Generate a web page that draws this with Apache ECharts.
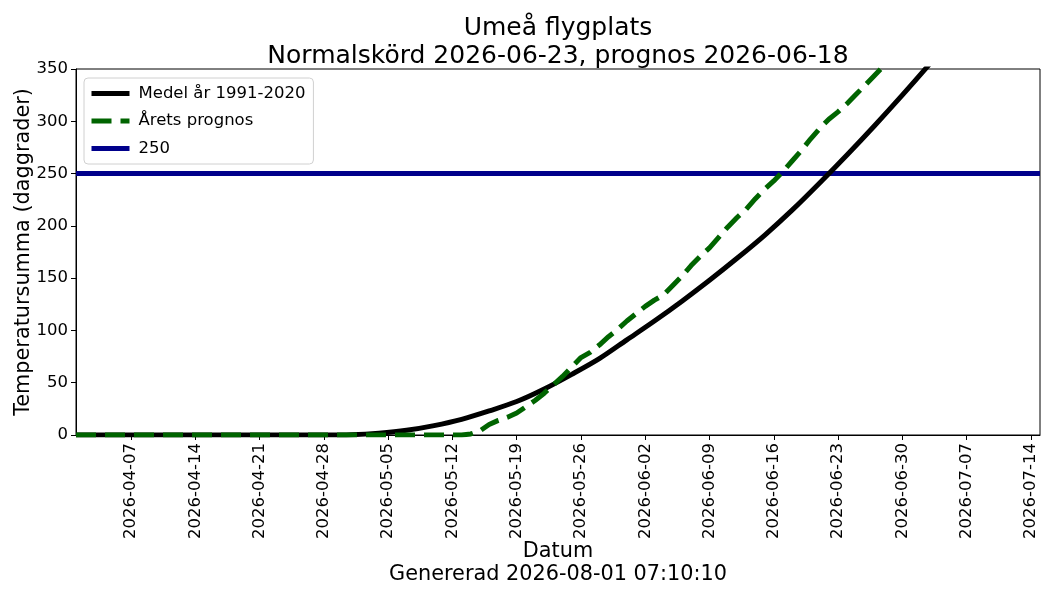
<!DOCTYPE html>
<html>
<head>
<meta charset="utf-8">
<script src="https://cdn.jsdelivr.net/npm/echarts@6/dist/echarts.min.js"></script>
<style>html,body{margin:0;padding:0;background:#fff}#chart{width:1050px;height:600px}</style>
</head>
<body>
<div id="chart"></div>
<script>
// medelvärde 1991-2020
var medelDates = ['2026-04-01','2026-04-25','2026-04-28','2026-05-01','2026-05-04','2026-05-07','2026-05-10','2026-05-13','2026-05-16','2026-05-19','2026-05-22','2026-05-25','2026-05-28','2026-05-31','2026-06-03','2026-06-06','2026-06-09','2026-06-12','2026-06-15','2026-06-18','2026-06-21','2026-06-24','2026-06-27','2026-06-30','2026-07-03','2026-07-06','2026-07-09','2026-07-12','2026-07-15'];
var medelValues = [0,0,0,0.3,1.8,4.5,9,15,23,32,44,58,73,91,109,128,148,169,191,215,241,268,296,325,355,386,417,449,481];

// årets prognos
var prognosDates = ['2026-04-01','2026-05-13','2026-05-14','2026-05-15','2026-05-16','2026-05-17','2026-05-18','2026-05-19','2026-05-20','2026-05-21','2026-05-22','2026-05-23','2026-05-24','2026-05-25','2026-05-26','2026-05-27','2026-05-28','2026-05-29','2026-05-30','2026-05-31','2026-06-01','2026-06-02','2026-06-03','2026-06-04','2026-06-05','2026-06-06','2026-06-07','2026-06-08','2026-06-09','2026-06-10','2026-06-11','2026-06-12','2026-06-13','2026-06-14','2026-06-15','2026-06-16','2026-06-17','2026-06-18','2026-06-19','2026-06-20','2026-06-21','2026-06-22','2026-06-23','2026-06-24','2026-06-25','2026-06-26','2026-06-27','2026-06-28','2026-06-29','2026-06-30'];
var prognosValues = [0,0,1,4,10,14,17,21,27,33,40,48,56,65,74,79,86,94,101,109,116,123,129,134,143,152,162,171,179,189,199,208,216,226,235,243,252,262,272,283,293,302,309,317,326,335,344,353,362,371];

var grans = 250;
var rangeDates = ['2026-04-01','2026-07-15'];
var tickDates = ['2026-04-07','2026-04-14','2026-04-21','2026-04-28','2026-05-05','2026-05-12','2026-05-19','2026-05-26','2026-06-02','2026-06-09','2026-06-16','2026-06-23','2026-06-30','2026-07-07','2026-07-14'];

var DAY = 86400000;
var t0 = Date.parse(rangeDates[0]);
function toDay(s){ return (Date.parse(s) - t0) / DAY; }
function toDate(d){ return new Date(t0 + Math.round(d) * DAY).toISOString().slice(0,10); }
function pairs(dates, vals){
    var out = [];
    for(var i=0;i<dates.length;i++){ out.push([toDay(dates[i]), vals[i]]); }
    return out;
}
var ticks = tickDates.map(toDay);

var font = 'DejaVu Sans';
var chart = echarts.init(document.getElementById('chart'));
var option = {
    animation: false,
    textStyle: { fontFamily: font },
    title: {
        text: 'Umeå flygplats\nNormalskörd 2026-06-23, prognos 2026-06-18',
        left: 553,
        top: 9,
        textAlign: 'center',
        textStyle: { fontFamily: font, fontSize: 25, fontWeight: 'normal', color: '#000', lineHeight: 28 }
    },
    grid: {
        left: 76, right: 10, top: 69, bottom: 165,
        show: true, borderColor: '#000', borderWidth: 1,
        containLabel: false
    },
    legend: {
        left: 84, top: 78,
        orient: 'vertical',
        itemWidth: 38, itemHeight: 14, itemGap: 10.5,
        padding: [7, 8, 7, 5],
        backgroundColor: 'rgba(255,255,255,0.8)',
        borderColor: '#d0d0d0', borderWidth: 1, borderRadius: 4,
        itemStyle: { opacity: 0 },
        lineStyle: { width: 5 },
        textStyle: { fontFamily: font, fontSize: 16.5, color: '#000', padding: [0, 0, 0, 4] },
        data: ['Medel år 1991-2020', 'Årets prognos', '250']
    },
    xAxis: {
        type: 'value',
        min: toDay(rangeDates[0]),
        max: toDay(rangeDates[1]),
        name: 'Datum\nGenererad 2026-08-01 07:10:10',
        nameLocation: 'middle',
        nameMoveOverlap: false,
        nameGap: 105,
        nameTextStyle: { fontFamily: font, fontSize: 20.8, color: '#000', lineHeight: 23 },
        axisLine: { show: true, lineStyle: { color: '#000', width: 1 } },
        axisTick: { show: true, inside: false, length: 5, customValues: ticks, lineStyle: { color: '#000' } },
        axisLabel: {
            customValues: ticks, rotate: 90, margin: 8,
            fontFamily: font, fontSize: 16.5, color: '#000',
            formatter: function(v){ return toDate(v); }
        },
        splitLine: { show: false }
    },
    yAxis: {
        type: 'value',
        min: 0, max: 350, interval: 50,
        name: 'Temperatursumma (daggrader)',
        nameLocation: 'middle',
        nameMoveOverlap: false,
        nameRotate: 90,
        nameGap: 42,
        nameTextStyle: { fontFamily: font, fontSize: 20.8, color: '#000' },
        axisLine: { show: true, lineStyle: { color: '#000', width: 1 } },
        axisTick: { show: true, inside: false, length: 5, lineStyle: { color: '#000' } },
        axisLabel: { fontFamily: font, fontSize: 16.5, color: '#000', margin: 8 },
        splitLine: { show: false }
    },
    series: [
        {
            name: 'Medel år 1991-2020',
            type: 'line',
            data: pairs(medelDates, medelValues),
            smooth: 0.3,
            symbol: 'none',
            clip: true,
            z: 3,
            lineStyle: { color: '#000000', width: 5 },
            itemStyle: { color: '#000000' }
        },
        {
            name: 'Årets prognos',
            type: 'line',
            data: pairs(prognosDates, prognosValues),
            symbol: 'none',
            clip: true,
            z: 4,
            lineStyle: { color: '#006400', width: 5, type: [20, 9], cap: 'butt' },
            itemStyle: { color: '#006400' }
        },
        {
            name: '250',
            type: 'line',
            data: [[toDay(rangeDates[0]), grans], [toDay(rangeDates[1]), grans]],
            symbol: 'none',
            clip: true,
            z: 2,
            lineStyle: { color: '#00008b', width: 5 },
            itemStyle: { color: '#00008b' }
        }
    ]
};
chart.setOption(option);
</script>
</body>
</html>
